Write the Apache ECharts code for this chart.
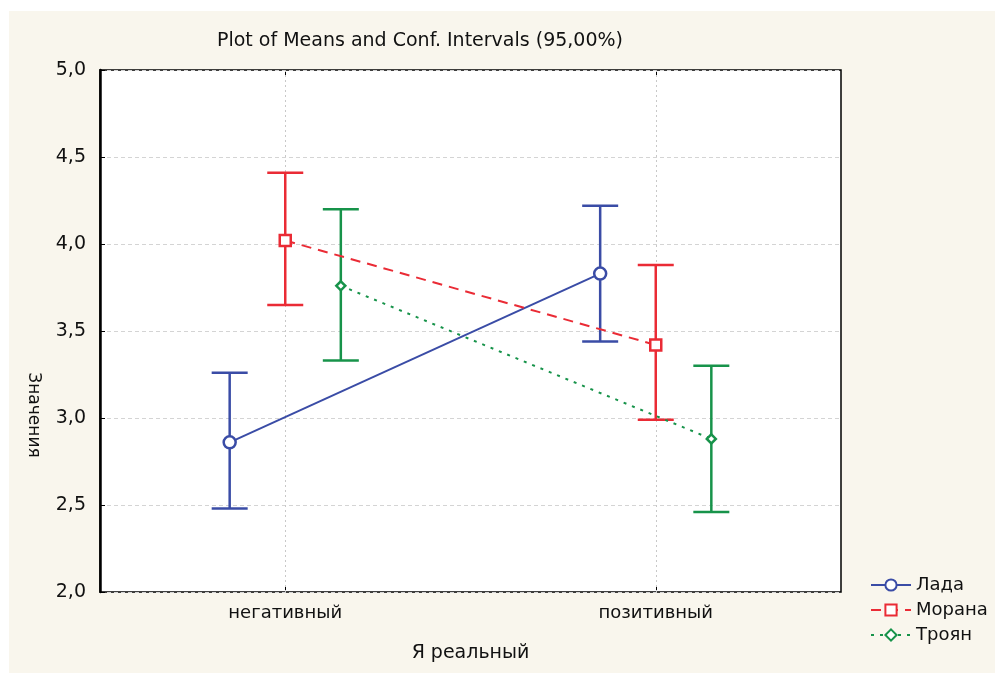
<!DOCTYPE html>
<html>
<head>
<meta charset="utf-8">
<script src="https://cdn.jsdelivr.net/npm/echarts@6/dist/echarts.min.js"></script>
<style>
  html, body { margin: 0; padding: 0; background: #fff; }
  #main { position: absolute; left: 9px; top: 11px; width: 986px; height: 662px; }
</style>
</head>
<body>
<div id="main"></div>
<script>
// data
var categories = ['негативный', 'позитивный'];
var seriesNames = ['Лада', 'Морана', 'Троян'];

var ladaMean = [2.86, 3.83];
var ladaLow = [2.48, 3.44];
var ladaHigh = [3.26, 4.22];

var moranaMean = [4.02, 3.42];
var moranaLow = [3.65, 2.99];
var moranaHigh = [4.41, 3.88];

var troyanMean = [3.76, 2.88];
var troyanLow = [3.33, 2.46];
var troyanHigh = [4.20, 3.30];

var yMin = 2, yMax = 5, yStep = 0.5;

var FONT = 'DejaVu Sans, Liberation Sans, sans-serif';

var chart = echarts.init(document.getElementById('main'));

var groups = [
  { name: seriesNames[0], mean: ladaMean, low: ladaLow, high: ladaHigh, color: '#3a4ca6', shift: -0.15, symbol: 'circle', size: 12, dash: 'solid' },
  { name: seriesNames[1], mean: moranaMean, low: moranaLow, high: moranaHigh, color: '#ea2b35', shift: 0, symbol: 'rect', size: 11, dash: [10, 7] },
  { name: seriesNames[2], mean: troyanMean, low: troyanLow, high: troyanHigh, color: '#17934a', shift: 0.15, symbol: 'diamond', size: 9, dash: [3, 6] }
];

// x position of a group inside a category (category i sits at i + 0.5)
function xOf(i, shift) { return i + 0.5 + shift; }

var series = [];

// error bars
groups.forEach(function (g, gi) {
  var s = {
    name: g.name + ' CI',
    type: 'custom',
    xAxisIndex: 0,
    z: 2,
    encode: { x: 0, y: [1, 2] },
    data: g.mean.map(function (m, i) { return [xOf(i, g.shift), g.low[i], g.high[i]]; }),
    renderItem: function (params, api) {
      var x = api.value(0);
      var lo = api.coord([x, api.value(1)]);
      var hi = api.coord([x, api.value(2)]);
      var half = 18;
      var st = { stroke: g.color, lineWidth: 2.5 };
      return {
        type: 'group',
        children: [
          { type: 'line', shape: { x1: hi[0], y1: hi[1], x2: lo[0], y2: lo[1] }, style: st },
          { type: 'line', shape: { x1: hi[0] - half, y1: hi[1], x2: hi[0] + half, y2: hi[1] }, style: st },
          { type: 'line', shape: { x1: lo[0] - half, y1: lo[1], x2: lo[0] + half, y2: lo[1] }, style: st }
        ]
      };
    }
  };
  if (gi === 0) {
    // vertical grid lines at category centres
    s.markLine = {
      silent: true,
      z: 1,
      symbol: ['none', 'none'],
      label: { show: false },
      lineStyle: { color: '#c8c8c8', type: [2, 3], width: 1 },
      data: categories.map(function (c, i) { return { xAxis: i + 0.5 }; })
    };
  }
  series.push(s);
});

// means joined by lines
groups.forEach(function (g) {
  series.push({
    name: g.name,
    type: 'line',
    xAxisIndex: 0,
    z: 3,
    data: g.mean.map(function (m, i) { return [xOf(i, g.shift), m]; }),
    symbol: g.symbol,
    symbolSize: g.size,
    showSymbol: true,
    lineStyle: { color: g.color, width: 2, type: g.dash },
    itemStyle: { color: '#fff', borderColor: g.color, borderWidth: 2.5 }
  });
});

var option = {
  backgroundColor: '#f9f6ed',
  animation: false,
  textStyle: { fontFamily: FONT },
  title: {
    text: 'Plot of Means and Conf. Intervals (95,00%)',
    left: 406,
    top: 16,
    textAlign: 'center',
    textStyle: { fontSize: 19, fontWeight: 'normal', color: '#111', fontFamily: FONT }
  },
  legend: {
    data: seriesNames,
    orient: 'vertical',
    left: 856,
    top: 560,
    itemWidth: 40,
    itemHeight: 14,
    itemGap: 7,
    textStyle: { fontSize: 18, color: '#111', fontFamily: FONT }
  },
  grid: {
    left: 91, top: 59, width: 741, height: 522,
    show: true, backgroundColor: '#fff', borderColor: '#000', borderWidth: 1.5
  },
  xAxis: [
    { type: 'value', min: 0, max: 2, show: false },
    {
      type: 'category', data: categories, position: 'bottom', boundaryGap: true,
      axisLine: { show: false },
      axisTick: { show: true, inside: true, alignWithLabel: true, length: 5, lineStyle: { color: '#000' } },
      axisLabel: { fontSize: 18, color: '#111', margin: 12, fontFamily: FONT },
      splitLine: { show: false },
      name: 'Я реальный', nameLocation: 'middle', nameGap: 52,
      nameTextStyle: { fontSize: 19, color: '#111', fontFamily: FONT }
    },
    {
      type: 'category', data: categories, position: 'top', boundaryGap: true,
      axisLine: { show: false },
      axisTick: { show: true, inside: true, alignWithLabel: true, length: 5, lineStyle: { color: '#000' } },
      axisLabel: { show: false },
      splitLine: { show: false }
    }
  ],
  yAxis: {
    type: 'value', min: yMin, max: yMax, interval: yStep,
    axisLine: { show: true, lineStyle: { color: '#000', width: 2.5 } },
    axisTick: { show: true, inside: true, length: 5, lineStyle: { color: '#000' } },
    axisLabel: {
      fontSize: 19, color: '#111', margin: 14, fontFamily: FONT,
      formatter: function (v) { return v.toFixed(1).replace('.', ','); }
    },
    splitLine: { show: true, lineStyle: { color: '#d4d4d4', type: [4, 3], width: 1 } }
  },
  graphic: [{
    type: 'text',
    x: 24, y: 404,
    rotation: -Math.PI / 2,
    style: {
      text: 'Значения', fontSize: 17, fill: '#111',
      fontFamily: FONT,
      align: 'center', verticalAlign: 'middle'
    }
  }],
  series: series
};

chart.setOption(option);
</script>
</body>
</html>
